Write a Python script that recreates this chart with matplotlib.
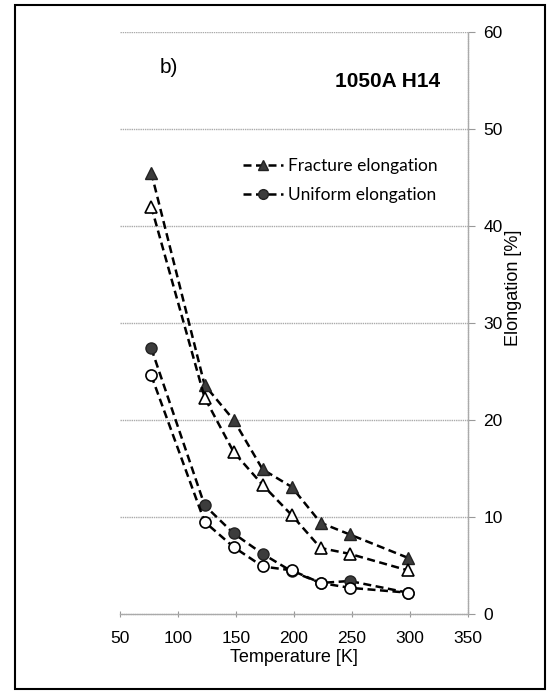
import matplotlib
matplotlib.use("Agg")
import matplotlib.pyplot as plt
from matplotlib.lines import Line2D
from matplotlib.patches import Rectangle

# temperatures [K]
temps = [77, 123, 148, 173, 198, 223, 248, 298]

# fracture elongation [%] (filled / open markers)
frac_filled = [45.5, 23.6, 20.0, 14.9, 13.1, 9.4, 8.2, 5.8]
frac_open = [42.0, 22.3, 16.7, 13.3, 10.2, 6.8, 6.2, 4.5]

# uniform elongation [%] (filled / open markers)
unif_filled = [27.4, 11.2, 8.3, 6.2, 4.4, 3.2, 3.4, 2.2]
unif_open = [24.6, 9.5, 6.9, 4.9, 4.5, 3.2, 2.7, 2.2]

x_ticks = [50, 100, 150, 200, 250, 300, 350]
y_ticks = [0, 10, 20, 30, 40, 50, 60]

plt.rcParams['font.family'] = ['Liberation Sans', 'DejaVu Sans']

fig = plt.figure(figsize=(5.5, 6.93), dpi=100)
ax = fig.add_axes([0.218, 0.114, 0.633, 0.840])

dash = (0, (3.2, 1.8))
mk = 8
fill_col = '#3c3c3c'

ax.plot(temps, frac_filled, linestyle=dash, color='black', lw=1.8,
        marker='^', ms=mk, mfc=fill_col, mec='#222222', zorder=3)
ax.plot(temps, frac_open, linestyle=dash, color='black', lw=1.8,
        marker='^', ms=mk, mfc='white', mec='black', mew=1.2, zorder=3)
ax.plot(temps, unif_filled, linestyle=dash, color='black', lw=1.8,
        marker='o', ms=mk, mfc=fill_col, mec='#222222', zorder=3)
ax.plot(temps, unif_open, linestyle=dash, color='black', lw=1.8,
        marker='o', ms=mk, mfc='white', mec='black', mew=1.2, zorder=4)

ax.set_xlim(50, 350)
ax.set_ylim(0, 60)
ax.set_xticks(x_ticks)
ax.set_yticks(y_ticks)
ax.tick_params(axis='both', labelsize=12.5, colors='#999999', labelcolor='black')
ax.tick_params(axis='x', direction='inout', length=5, pad=10)
ax.yaxis.tick_right()
ax.yaxis.set_label_position('right')
ax.tick_params(axis='y', direction='out', length=5, pad=6)

for s in ['left', 'top']:
    ax.spines[s].set_visible(False)
for s in ['right', 'bottom']:
    ax.spines[s].set_color('#aaaaaa')
    ax.spines[s].set_linestyle((0, (1, 0.6)))
    ax.spines[s].set_linewidth(1.0)

for v in y_ticks[1:]:
    ax.axhline(v, color='#aaaaaa', lw=1.0, linestyle=(0, (1, 0.6)), zorder=1)

ax.set_xlabel('Temperature [K]', fontsize=13, labelpad=2)
ax.set_ylabel('Elongation [%]', fontsize=13, rotation=90)
ax.yaxis.set_label_coords(1.106, 0.56)

ax.text(0.115, 0.93, 'b)', transform=ax.transAxes, fontsize=15)
ax.text(0.92, 0.905, '1050A H14', transform=ax.transAxes, fontsize=15,
        fontweight='bold', ha='right')

handles = [
    Line2D([], [], linestyle=dash, color='black', lw=1.8, marker='^', ms=7,
           mfc=fill_col, mec='#222222'),
    Line2D([], [], linestyle=dash, color='black', lw=1.8, marker='o', ms=7,
           mfc=fill_col, mec='#222222'),
]
ax.legend(handles, ['Fracture elongation', 'Uniform elongation'],
          loc='upper left', bbox_to_anchor=(0.353, 0.783), frameon=False,
          borderpad=0, borderaxespad=0,
          prop={'family': 'Lato', 'size': 12.5}, handlelength=2.3,
          handletextpad=0.3, labelspacing=0.73)

fig.patches.append(Rectangle((15 / 550, 4 / 693), 530 / 550, 684 / 693,
                             transform=fig.transFigure, fill=False,
                             edgecolor='black', lw=1.5))

fig.savefig('out.png', dpi=100)
